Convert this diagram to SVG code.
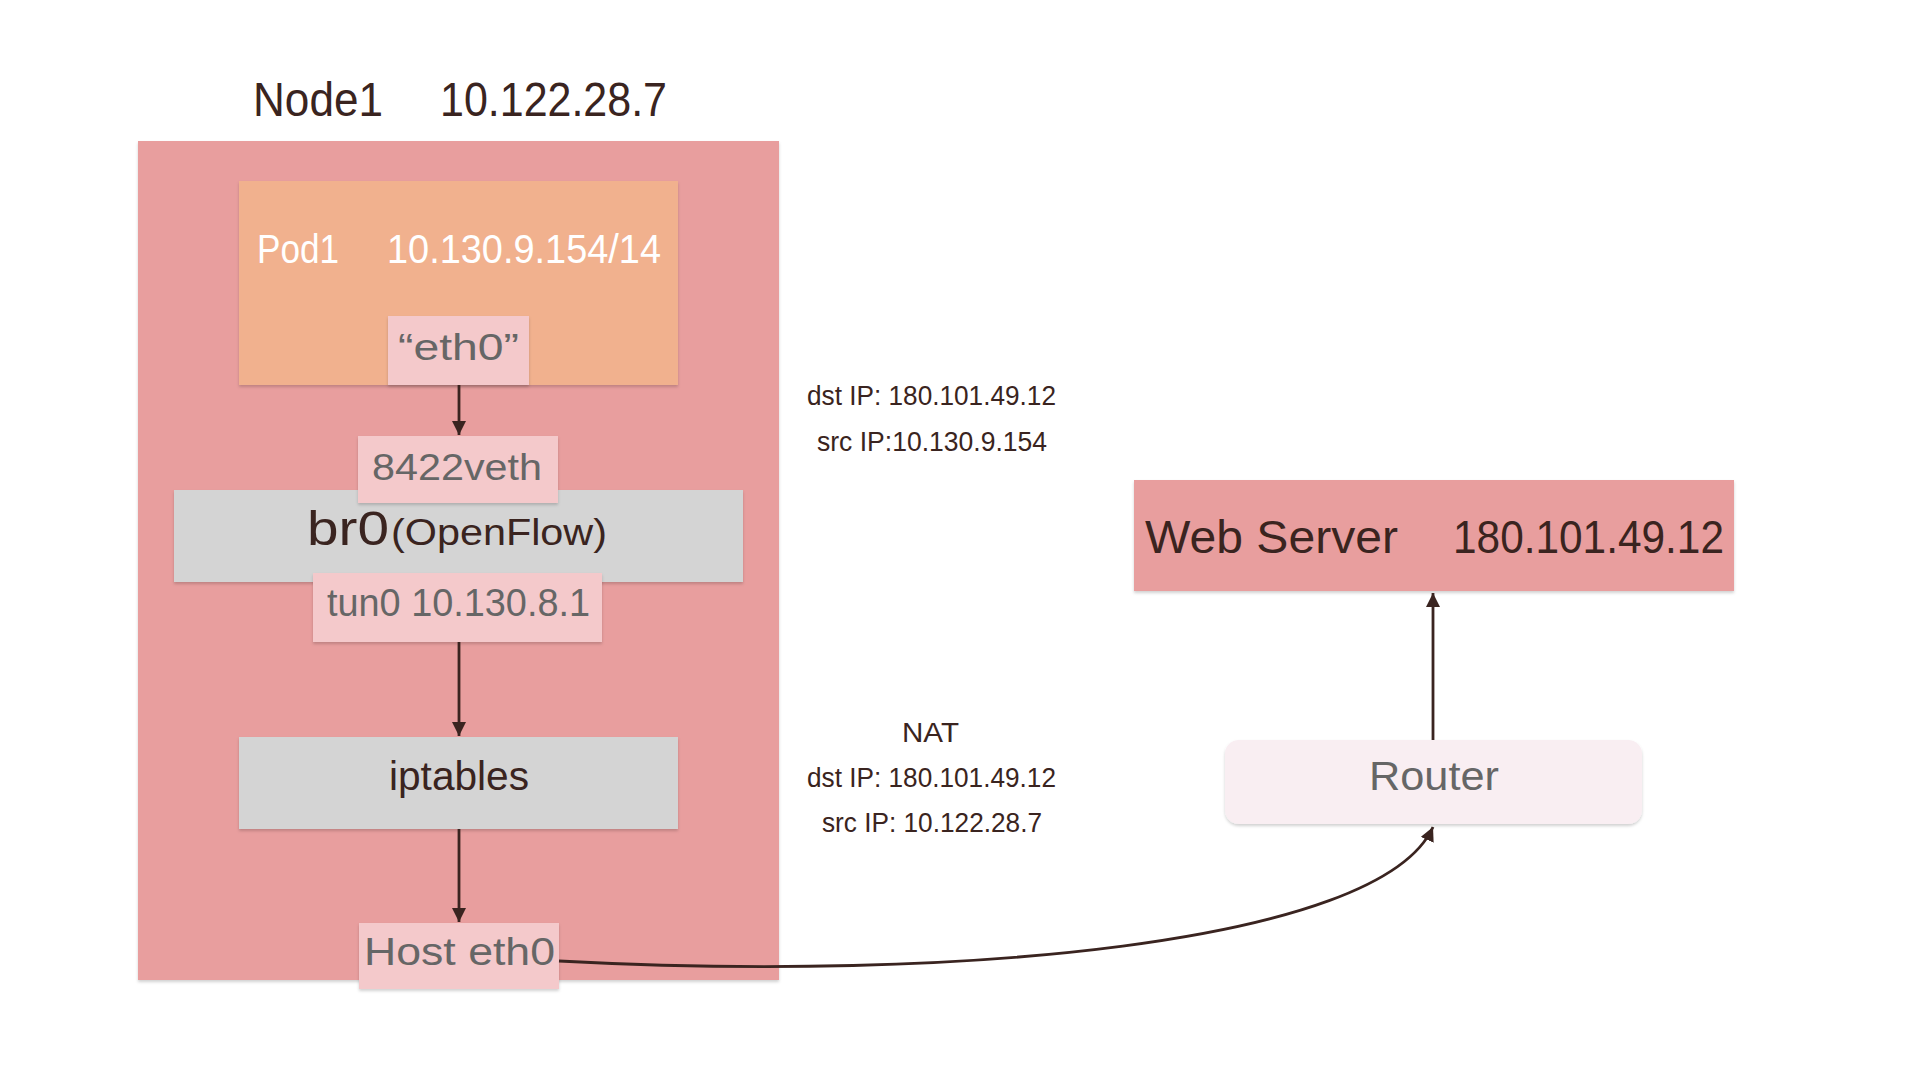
<svg xmlns="http://www.w3.org/2000/svg" width="1920" height="1080" viewBox="0 0 1920 1080">
<style>
text{font-family:"Liberation Sans","DejaVu Sans",sans-serif;}
.dark{fill:#3a2420;}
.grey{fill:#666666;}
.white{fill:#ffffff;}
.conn{fill:none;stroke:#3a2420;stroke-width:2.8;}
</style>
<defs>
<filter id="sh" x="-5%" y="-5%" width="110%" height="115%">
<feDropShadow dx="0" dy="2" stdDeviation="1.5" flood-color="#000" flood-opacity="0.18"/>
</filter>
<marker id="arr" viewBox="0 0 10 10" refX="10" refY="5" markerWidth="5" markerHeight="5" orient="auto" markerUnits="strokeWidth">
<path d="M0,0 L10,5 L0,10 Z" fill="#3a2420"/>
</marker>
</defs>
<rect width="1920" height="1080" fill="#ffffff"/>

<g id="node1">
<rect x="138" y="141" width="641" height="839" fill="#e89e9e" filter="url(#sh)"/>
<text class="dark" x="253" y="116" font-size="48" textLength="130" lengthAdjust="spacingAndGlyphs">Node1</text>
<text class="dark" x="440" y="116" font-size="48" textLength="227" lengthAdjust="spacingAndGlyphs">10.122.28.7</text>
</g>

<g id="pod1">
<rect x="239" y="181" width="439" height="204" fill="#f1b18e" filter="url(#sh)"/>
<text class="white" x="257" y="263" font-size="40" textLength="82" lengthAdjust="spacingAndGlyphs">Pod1</text>
<text class="white" x="387" y="263" font-size="40" textLength="274" lengthAdjust="spacingAndGlyphs">10.130.9.154/14</text>
</g>

<g id="pod-eth0">
<rect x="388" y="316" width="141" height="69" fill="#f4c9cb" filter="url(#sh)"/>
<text class="grey" x="398" y="360" font-size="36" textLength="121" lengthAdjust="spacingAndGlyphs">“eth0”</text>
</g>

<g id="br0">
<rect x="174" y="490" width="569" height="92" fill="#d4d4d4" filter="url(#sh)"/>
<text class="dark" x="307" y="545" font-size="48" textLength="82" lengthAdjust="spacingAndGlyphs">br0</text>
<text class="dark" x="391" y="545" font-size="36" textLength="216" lengthAdjust="spacingAndGlyphs">(OpenFlow)</text>
</g>

<g id="veth">
<rect x="358" y="436" width="200" height="67" fill="#f4c9cb" filter="url(#sh)"/>
<text class="grey" x="372" y="480" font-size="36" textLength="170" lengthAdjust="spacingAndGlyphs">8422veth</text>
</g>

<g id="tun0">
<rect x="313" y="573" width="289" height="69" fill="#f4c9cb" filter="url(#sh)"/>
<text class="grey" x="327" y="616" font-size="38" textLength="263" lengthAdjust="spacingAndGlyphs">tun0 10.130.8.1</text>
</g>

<g id="iptables">
<rect x="239" y="737" width="439" height="92" fill="#d4d4d4" filter="url(#sh)"/>
<text class="dark" x="389" y="790" font-size="40" textLength="140" lengthAdjust="spacingAndGlyphs">iptables</text>
</g>

<g id="host-eth0">
<rect x="359" y="923" width="200" height="66" fill="#f4c9cb" filter="url(#sh)"/>
<text class="grey" x="364" y="965" font-size="38" textLength="191" lengthAdjust="spacingAndGlyphs">Host eth0</text>
</g>

<g id="web-server">
<rect x="1134" y="480" width="600" height="111" fill="#e89e9e" filter="url(#sh)"/>
<text class="dark" x="1145" y="553" font-size="46" textLength="253" lengthAdjust="spacingAndGlyphs">Web Server</text>
<text class="dark" x="1453" y="553" font-size="46" textLength="271" lengthAdjust="spacingAndGlyphs">180.101.49.12</text>
</g>

<g id="router">
<rect x="1225" y="740" width="417" height="84" rx="14" fill="#f9eef2" filter="url(#sh)"/>
<text class="grey" x="1369" y="790" font-size="40" textLength="130" lengthAdjust="spacingAndGlyphs">Router</text>
</g>

<g id="labels">
<text class="dark" x="807" y="405" font-size="27" textLength="249" lengthAdjust="spacingAndGlyphs">dst IP: 180.101.49.12</text>
<text class="dark" x="817" y="451" font-size="27" textLength="230" lengthAdjust="spacingAndGlyphs">src IP:10.130.9.154</text>
<text class="dark" x="902" y="742" font-size="27" textLength="57" lengthAdjust="spacingAndGlyphs">NAT</text>
<text class="dark" x="807" y="787" font-size="27" textLength="249" lengthAdjust="spacingAndGlyphs">dst IP: 180.101.49.12</text>
<text class="dark" x="822" y="832" font-size="27" textLength="220" lengthAdjust="spacingAndGlyphs">src IP: 10.122.28.7</text>
</g>

<g id="connectors">
<line class="conn" x1="459" y1="385" x2="459" y2="435" marker-end="url(#arr)"/>
<line class="conn" x1="459" y1="642" x2="459" y2="736" marker-end="url(#arr)"/>
<line class="conn" x1="459" y1="829" x2="459" y2="922" marker-end="url(#arr)"/>
<line class="conn" x1="1433" y1="740" x2="1433" y2="593" marker-end="url(#arr)"/>
<path class="conn" d="M559,961 C950,982 1380,945 1433,827" marker-end="url(#arr)"/>
</g>
</svg>
